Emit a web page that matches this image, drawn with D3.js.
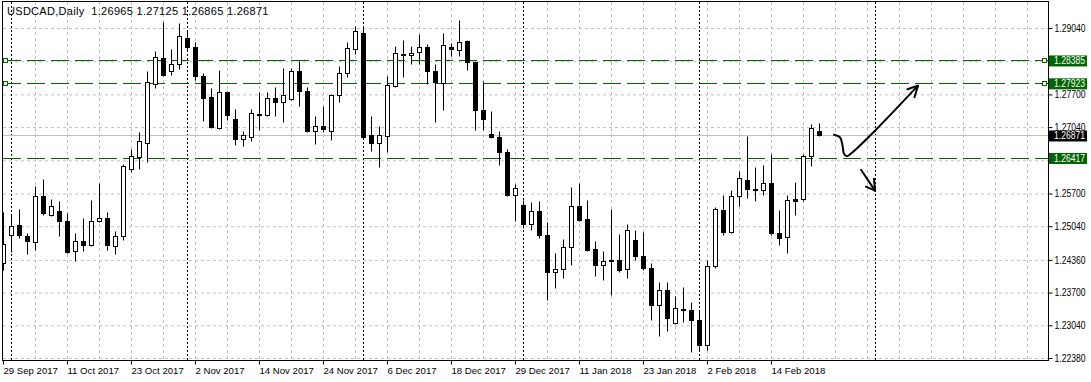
<!DOCTYPE html>
<html><head><meta charset="utf-8">
<script src="https://cdn.jsdelivr.net/npm/d3@7"></script>
<style>
body{margin:0;background:#fff}
svg{display:block}
text{font-family:"Liberation Sans",Arial,sans-serif}
</style>
</head><body>
<svg id="c" width="1091" height="382"></svg>
<script>
// ---------- data ----------
const symbol = "USDCAD";
const timeframe = "Daily";
const open = [1.24304,1.24855,1.25071,1.24849,1.24713,1.25656,1.25258,1.25353,1.25151,1.24532,
1.24742,1.24653,1.25137,1.25206,1.24641,1.24843,1.26195,1.26429,1.26719,1.27910,
1.28435,1.28178,1.28313,1.28838,1.28663,1.28077,1.27654,1.27022,1.27754,1.27210,
1.26800,1.26840,1.27305,1.27284,1.27633,1.27547,1.27607,1.28178,1.27775,1.26953,
1.27068,1.26953,1.27688,1.28132,1.28616,1.28939,1.26887,1.26719,1.26852,1.27876,
1.28521,1.28487,1.28556,1.28657,1.28178,1.27930,1.28657,1.28588,1.28778,1.28360,
1.27391,1.26907,1.26840,1.26538,1.25662,1.25474,1.25091,1.25353,1.24869,1.24108,
1.24177,1.24621,1.25454,1.25192,1.24586,1.24263,1.24364,1.24364,1.24177,1.24768,
1.24445,1.24197,1.23456,1.23759,1.23087,1.23369,1.23355,1.23153,1.22649,1.24243,
1.25373,1.24915,1.25642,1.25979,1.25797,1.25763,1.25912,1.24903,1.24814,1.25595,
1.25581,1.26449,1.26965];
const high = [1.25333,1.25258,1.25393,1.24909,1.25858,1.25999,1.25595,1.25555,1.25307,1.24903,
1.25206,1.25575,1.25912,1.25327,1.24949,1.26295,1.26604,1.26941,1.28178,1.28582,
1.29167,1.28622,1.29147,1.29006,1.28749,1.28138,1.27829,1.28198,1.27775,1.27411,
1.26967,1.27405,1.27740,1.27740,1.27841,1.28233,1.28239,1.28380,1.27849,1.27270,
1.27472,1.27708,1.28265,1.28749,1.29086,1.29086,1.27270,1.27054,1.28077,1.28683,
1.28804,1.28683,1.28925,1.28723,1.28320,1.28939,1.28743,1.29207,1.28804,1.28380,
1.27976,1.27357,1.26967,1.26598,1.25892,1.25575,1.25529,1.25555,1.25125,1.24500,
1.24788,1.25837,1.25904,1.25575,1.24734,1.24532,1.25393,1.24883,1.25091,1.24964,
1.24915,1.24298,1.23914,1.23914,1.23624,1.23805,1.23503,1.23321,1.24364,1.25434,
1.25676,1.25777,1.26146,1.26867,1.26241,1.26267,1.26503,1.25373,1.25676,1.25932,
1.26503,1.27109,1.27125];
const low = [1.24162,1.24526,1.24802,1.24471,1.24566,1.25272,1.25238,1.24834,1.24495,1.24330,
1.24532,1.24637,1.25121,1.24566,1.24485,1.24762,1.26126,1.26201,1.26328,1.27835,
1.28077,1.28098,1.28219,1.28602,1.27997,1.27155,1.27018,1.27008,1.27189,1.26671,
1.26651,1.26766,1.26988,1.27270,1.27270,1.27135,1.27593,1.27472,1.26941,1.26705,
1.26941,1.26786,1.27539,1.28043,1.28521,1.26816,1.26550,1.26227,1.26530,1.27845,
1.28043,1.28313,1.28313,1.27910,1.27135,1.27377,1.28481,1.28481,1.28184,1.26988,
1.26974,1.26816,1.26267,1.25642,1.25137,1.25004,1.24970,1.24808,1.23557,1.23793,
1.23995,1.24263,1.25151,1.24546,1.24027,1.23961,1.23658,1.24122,1.23995,1.24364,
1.24162,1.23153,1.22816,1.22931,1.23073,1.23099,1.22494,1.22548,1.22548,1.24203,
1.24869,1.24895,1.25454,1.25609,1.25555,1.25662,1.24869,1.24653,1.24500,1.25272,
1.25555,1.26247,1.26865];
const close = [1.24687,1.25050,1.24855,1.24734,1.25656,1.25299,1.25454,1.25137,1.24520,1.24742,
1.24653,1.25145,1.25198,1.24653,1.24843,1.26255,1.26449,1.26760,1.27950,1.28455,
1.28083,1.28313,1.28885,1.28657,1.28063,1.27619,1.27034,1.27754,1.27276,1.26800,
1.26887,1.27325,1.27276,1.27619,1.27539,1.27688,1.28178,1.27761,1.26953,1.27068,
1.27002,1.27688,1.28132,1.28636,1.28971,1.26832,1.26719,1.26887,1.27896,1.28535,
1.28487,1.28535,1.28657,1.28164,1.27942,1.28697,1.28616,1.28763,1.28346,1.27377,
1.27204,1.26832,1.26530,1.25662,1.25811,1.25091,1.25353,1.24855,1.24108,1.24177,
1.24621,1.25454,1.25171,1.24566,1.24263,1.24344,1.24330,1.24148,1.24964,1.24445,
1.24197,1.23456,1.23759,1.23188,1.23390,1.23341,1.23139,1.22649,1.24243,1.25393,
1.24915,1.25656,1.26013,1.25797,1.25763,1.25912,1.24895,1.24794,1.25569,1.25555,
1.26463,1.27022,1.26871];

const dateTickBars = [0,8,16,24,32,40,48,56,64,72,80,88,96];
const dateTickLabels = ["29 Sep 2017","11 Oct 2017","23 Oct 2017","2 Nov 2017","14 Nov 2017",
  "24 Nov 2017","6 Dec 2017","18 Dec 2017","29 Dec 2017","11 Jan 2018","23 Jan 2018",
  "2 Feb 2018","14 Feb 2018"];
const separatorBars = [1,23,45,65,87,109];      // first bar of each month
const priceTicks = [1.29040,1.28370,1.27700,1.27040,1.26370,1.25700,1.25040,1.24360,1.23700,1.23040,1.22380];
const levelsMarked = [1.28385,1.27923];          // selected horizontal lines
const levelsPlain = [1.26417];
const lastPrice = 1.26871;

// hand-drawn annotations in [bar, price]
const upCurve = [[103.81,1.26887],[104.56,1.26836],[104.88,1.26665],[105.06,1.26503],
  [105.44,1.26453],[106.06,1.26523],[109.06,1.26988],[114.31,1.27876]];
const upHead = [[112.99,1.27805],[114.31,1.27876],[113.87,1.27643]];
const downLine = [[107.19,1.26180],[108.94,1.25757]];
const downHead = [[107.81,1.25837],[108.94,1.25757],[108.81,1.25999]];

// ---------- layout ----------
const svg = d3.select("#c");
const L = 3, T = 2, R = 1048, B = 360;
const x = d3.scaleLinear().domain([0,130]).range([3,1043]);
const y = d3.scaleLinear().domain([1.2238,1.2904]).range([358,28]);
const px = i => x(i) + 0.5;
const py = v => Math.round(y(v)) + 0.5;
const fmt = d3.format(".5f");
const FONT = "Liberation Sans, Arial, sans-serif";

svg.append("rect").attr("width",1091).attr("height",382).attr("fill","#fff");
svg.append("defs").append("clipPath").attr("id","clip")
  .append("rect").attr("x",L).attr("y",T).attr("width",R-L).attr("height",B-T+1);

const plot = svg.append("g").attr("clip-path","url(#clip)");

// grid
plot.append("g").selectAll("line").data(priceTicks).join("line")
  .attr("x1",L).attr("x2",R).attr("y1",d=>y(d)+0.5).attr("y2",d=>y(d)+0.5)
  .attr("stroke","#c0c0c0").attr("stroke-dasharray","3,3");
plot.append("g").selectAll("line").data(d3.range(4,131,4)).join("line")
  .attr("x1",px).attr("x2",px).attr("y1",T).attr("y2",B)
  .attr("stroke","#c0c0c0").attr("stroke-dasharray","3,3");

// month separators
plot.append("g").selectAll("line").data(separatorBars).join("line")
  .attr("x1",px).attr("x2",px).attr("y1",T).attr("y2",B)
  .attr("stroke","#000").attr("stroke-dasharray","2,2");

// current price line
plot.append("line").attr("x1",L).attr("x2",R).attr("y1",py(lastPrice)).attr("y2",py(lastPrice))
  .attr("stroke","#c0c0c0");

// level lines
const green = "#006400";
plot.append("g").selectAll("line").data(levelsMarked.concat(levelsPlain)).join("line")
  .attr("x1",L).attr("x2",R).attr("y1",py).attr("y2",py)
  .attr("stroke",green).attr("stroke-width",1.2).attr("stroke-dasharray","18,6");

// candles
const bars = open.map((o,i)=>({i,o,h:high[i],l:low[i],c:close[i]}));
const cg = plot.append("g");
cg.selectAll("line").data(bars).join("line")
  .attr("x1",d=>px(d.i)).attr("x2",d=>px(d.i))
  .attr("y1",d=>py(d.h)).attr("y2",d=>py(d.l))
  .attr("stroke","#000");
cg.selectAll("rect").data(bars).join("rect")
  .attr("x",d=>px(d.i)-2).attr("width",4)
  .attr("y",d=>py(Math.max(d.o,d.c)))
  .attr("height",d=>Math.max(0,py(Math.min(d.o,d.c))-py(Math.max(d.o,d.c))))
  .attr("fill",d=>d.c>=d.o?"#fff":"#000")
  .attr("stroke","#000");

// selection squares on marked levels
const sq = plot.append("g");
sq.selectAll("rect.l").data(levelsMarked).join("rect").attr("class","l")
  .attr("x",L+0.5).attr("y",d=>py(d)-2).attr("width",4).attr("height",4)
  .attr("fill","#fff").attr("stroke",green);
sq.selectAll("rect.r").data(levelsMarked).join("rect").attr("class","r")
  .attr("x",R-5.5).attr("y",d=>py(d)-2).attr("width",4).attr("height",4)
  .attr("fill","#fff").attr("stroke",green);

// annotations
const lineGen = d3.line().x(d=>x(d[0])+0.5).y(d=>y(d[1]));
const ag = plot.append("g").attr("fill","none").attr("stroke","#000").attr("stroke-width",2)
  .attr("stroke-linecap","round").attr("stroke-linejoin","round");
ag.append("path").attr("d",d3.line().x(d=>x(d[0])+0.5).y(d=>y(d[1])).curve(d3.curveCatmullRom)(upCurve));
ag.append("path").attr("d",lineGen(upHead));
ag.append("path").attr("d",lineGen(downLine));
ag.append("path").attr("d",lineGen(downHead));

// frame
svg.append("rect").attr("x",L-0.5).attr("y",T-0.5).attr("width",R-L+1).attr("height",B-T+1)
  .attr("fill","none").attr("stroke","#000");

// right axis
const ay = svg.append("g").attr("transform",`translate(${R+0.5},0)`)
  .call(d3.axisRight(y).tickValues(priceTicks).tickFormat(fmt).tickSize(4).tickSizeOuter(0));
ay.select(".domain").remove();
ay.selectAll("text").attr("font-family",FONT).attr("font-size",10).attr("x",6)
  .attr("textLength",31).attr("lengthAdjust","spacingAndGlyphs");

// bottom axis
const ax = svg.append("g").attr("transform",`translate(0,${B+0.5})`)
  .call(d3.axisBottom(x).tickValues(dateTickBars).tickFormat((d,i)=>dateTickLabels[i]).tickSize(4).tickSizeOuter(0));
ax.select(".domain").remove();
ax.selectAll("text").attr("font-family",FONT).attr("font-size",9.6)
  .attr("text-anchor","start").attr("x",0).attr("y",13).attr("dy",0);

// price labels
const labels = levelsMarked.concat(levelsPlain).map(v=>({v,bg:green})).concat([{v:lastPrice,bg:"#000"}]);
const lg = svg.append("g");
lg.selectAll("rect").data(labels).join("rect")
  .attr("x",R+1).attr("width",38).attr("y",d=>y(d.v)-5).attr("height",11).attr("fill",d=>d.bg);
lg.selectAll("text").data(labels).join("text")
  .attr("x",R+6).attr("y",d=>y(d.v)+0.5).attr("dy","0.35em")
  .attr("font-size",10).attr("fill","#fff")
  .attr("textLength",31).attr("lengthAdjust","spacingAndGlyphs").text(d=>fmt(d.v));

// title
const n = open.length-1;
svg.append("text").attr("x",7).attr("y",15).attr("font-size",11).attr("letter-spacing",0.3)
  .style("white-space","pre")
  .text(`${symbol},${timeframe}  ${fmt(open[n])} ${fmt(high[n])} ${fmt(low[n])} ${fmt(close[n])}`);
</script>
</body></html>
